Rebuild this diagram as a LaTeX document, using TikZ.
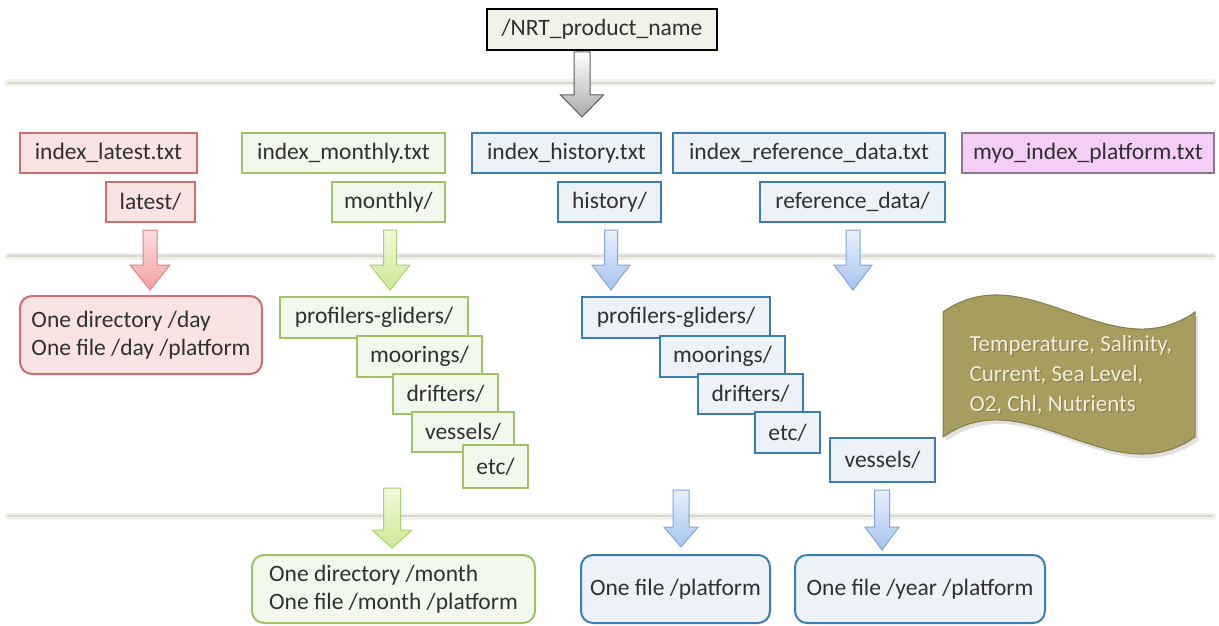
\documentclass[tikz,border=0pt]{standalone}
\usepackage{fontspec}
\setmainfont{Carlito}
\definecolor{txt}{HTML}{303030}
\definecolor{redb}{HTML}{CF6E6C}
\definecolor{redf}{HTML}{F9E3E3}
\definecolor{grnb}{HTML}{A0C266}
\definecolor{grnf}{HTML}{F2F8EC}
\definecolor{blub}{HTML}{3B7EB5}
\definecolor{bluf}{HTML}{EDF2F8}
\definecolor{purb}{HTML}{8E7590}
\definecolor{purf}{HTML}{F4CEF6}
\definecolor{nrtf}{HTML}{F3F2E8}
\definecolor{olive}{HTML}{A69D5E}
\definecolor{olived}{HTML}{857D47}
\definecolor{banntxt}{HTML}{F2EEDC}
\definecolor{hl}{HTML}{D8D8CE}
\definecolor{hlsoft}{HTML}{F1F1EC}
\newcommand\blockarr[7]{%
  \draw[#1] (#2-#6,#3) -- (#2+#6,#3) -- (#2+#6,#4) -- (#2+#7,#4) -- (#2,#5)
    -- (#2-#7,#4) -- (#2-#6,#4) -- cycle;}
\begin{document}
\begin{tikzpicture}[x=1pt,y=-1pt,
  box/.style={draw, line width=2pt, inner sep=0pt, minimum height=40pt,
    text=txt, font=\fontsize{23.5}{28}\selectfont},
  redbox/.style={box, draw=redb, fill=redf},
  grnbox/.style={box, draw=grnb, fill=grnf},
  blubox/.style={box, draw=blub, fill=bluf},
  purbox/.style={box, draw=purb, fill=purf},
  nrtbox/.style={box, draw=black, fill=nrtf},
  rbox/.style={rounded corners=12pt, align=left},
  hline/.style={line width=2.5pt, draw=hl, line cap=round},
  hlinesoft/.style={line width=7pt, draw=hlsoft, line cap=round},
  grayarr/.style={draw={rgb,255:red,96;green,96;blue,96}, line width=1pt, top color=white, bottom color={rgb,255:red,170;green,170;blue,170}},
  redarr/.style={draw={rgb,255:red,226;green,130;blue,130}, line width=1pt, top color={rgb,255:red,252;green,222;blue,222}, bottom color={rgb,255:red,244;green,160;blue,160}},
  grnarr/.style={draw={rgb,255:red,170;green,208;blue,110}, line width=1pt, top color={rgb,255:red,240;green,250;blue,220}, bottom color={rgb,255:red,205;green,232;blue,150}},
  bluarr/.style={draw={rgb,255:red,130;green,165;blue,220}, line width=1pt, top color={rgb,255:red,232;green,240;blue,252}, bottom color={rgb,255:red,165;green,195;blue,238}},
]
\useasboundingbox[fill=white] (0,0) rectangle (1219,626);

% horizontal separator lines
\foreach \yy in {83,256,516} {
  \draw[hlinesoft] (8,\yy) -- (1213,\yy);
  \draw[hline] (8,\yy) -- (1213,\yy);
}

% top
\node[nrtbox, minimum width=230pt, minimum height=41pt] (nrt) at (602,29.5) {/NRT\_product\_name};
\blockarr{grayarr}{582}{52}{95}{117}{8}{21.5}

% row 1
\node[redbox, minimum width=177pt] (ilat) at (108.5,153) {index\_latest.txt};
\node[grnbox, minimum width=203pt] (imon) at (343.5,153) {index\_monthly.txt};
\node[blubox, minimum width=189pt] (ihis) at (566.5,153) {index\_history.txt};
\node[blubox, minimum width=272pt] (iref) at (809,153) {index\_reference\_data.txt};
\node[purbox, minimum width=252pt] (imyo) at (1088,153) {myo\_index\_platform.txt};

% row 2
\node[redbox, minimum width=89pt] (lat) at (150.5,202) {latest/};
\node[grnbox, minimum width=113pt] (mon) at (388.5,202) {monthly/};
\node[blubox, minimum width=103pt] (his) at (609.5,202) {history/};
\node[blubox, minimum width=185pt] (ref) at (852.5,202) {reference\_data/};

% arrows row 2
\blockarr{redarr}{150}{230}{265}{290}{7}{20}
\blockarr{grnarr}{390}{230}{265}{290}{6.5}{20}
\blockarr{bluarr}{611}{230}{265}{290}{6.5}{19}
\blockarr{bluarr}{853}{230}{265}{290}{7}{19}

% row 3
\node[redbox, rbox, minimum width=242pt, minimum height=78pt] (day) at (141,335)
  {One directory /day\\One file /day /platform};

\node[grnbox, minimum width=188pt, minimum height=41pt] (gpg) at (374,317.5) {profilers-gliders/};
\node[grnbox, minimum width=125pt, minimum height=41pt] (gmo) at (419.5,356.5) {moorings/};
\node[grnbox, minimum width=105pt] (gdr) at (445.5,394) {drifters/};
\node[grnbox, minimum width=102pt] (gve) at (463,432) {vessels/};
\node[grnbox, minimum width=65pt, minimum height=43pt] (get) at (495.5,466.5) {etc/};

\node[blubox, minimum width=188pt, minimum height=41pt] (bpg) at (676,317.5) {profilers-gliders/};
\node[blubox, minimum width=125pt, minimum height=41pt] (bmo) at (722.5,356.5) {moorings/};
\node[blubox, minimum width=105pt] (bdr) at (750.5,394) {drifters/};
\node[blubox, minimum width=65pt, minimum height=41pt] (bet) at (787.5,432.5) {etc/};
\node[blubox, minimum width=105pt, minimum height=44pt] (bve) at (882.5,460) {vessels/};

% banner
\path[fill=black!12] (946,316) .. controls (1030,257) and (1114,375) .. (1198,316) -- (1198,441)
  .. controls (1114,500) and (1030,382) .. (946,441) -- cycle;
\path[fill=olive, draw=olived, line width=1pt] (943,312) .. controls (1027,253) and (1111,371) .. (1195,312)
  -- (1195,437) .. controls (1111,496) and (1027,378) .. (943,437) -- cycle;
\node[align=left, text=olived, font=\fontsize{23}{30}\selectfont, anchor=west] at (967.2,376.2)
  {Temperature, Salinity,\\Current, Sea Level,\\O2, Chl, Nutrients};
\node[align=left, text=banntxt, font=\fontsize{23}{30}\selectfont, anchor=west] (bann) at (966,375)
  {Temperature, Salinity,\\Current, Sea Level,\\O2, Chl, Nutrients};

% arrows bottom
\blockarr{grnarr}{392}{488}{530}{548}{8.5}{20}
\blockarr{bluarr}{681}{490}{527}{547}{8}{17}
\blockarr{bluarr}{882}{490}{527}{550}{7.5}{17}

% bottom boxes
\node[grnbox, rbox, minimum width=283pt, minimum height=68pt] (month) at (393.5,589)
  {One directory /month\\One file /month /platform};
\node[blubox, rbox, minimum width=189pt, minimum height=68pt] (plat) at (675.5,589) {One file /platform};
\node[blubox, rbox, minimum width=250pt, minimum height=68pt] (year) at (920,589) {One file /year /platform};
\end{tikzpicture}
\end{document}
